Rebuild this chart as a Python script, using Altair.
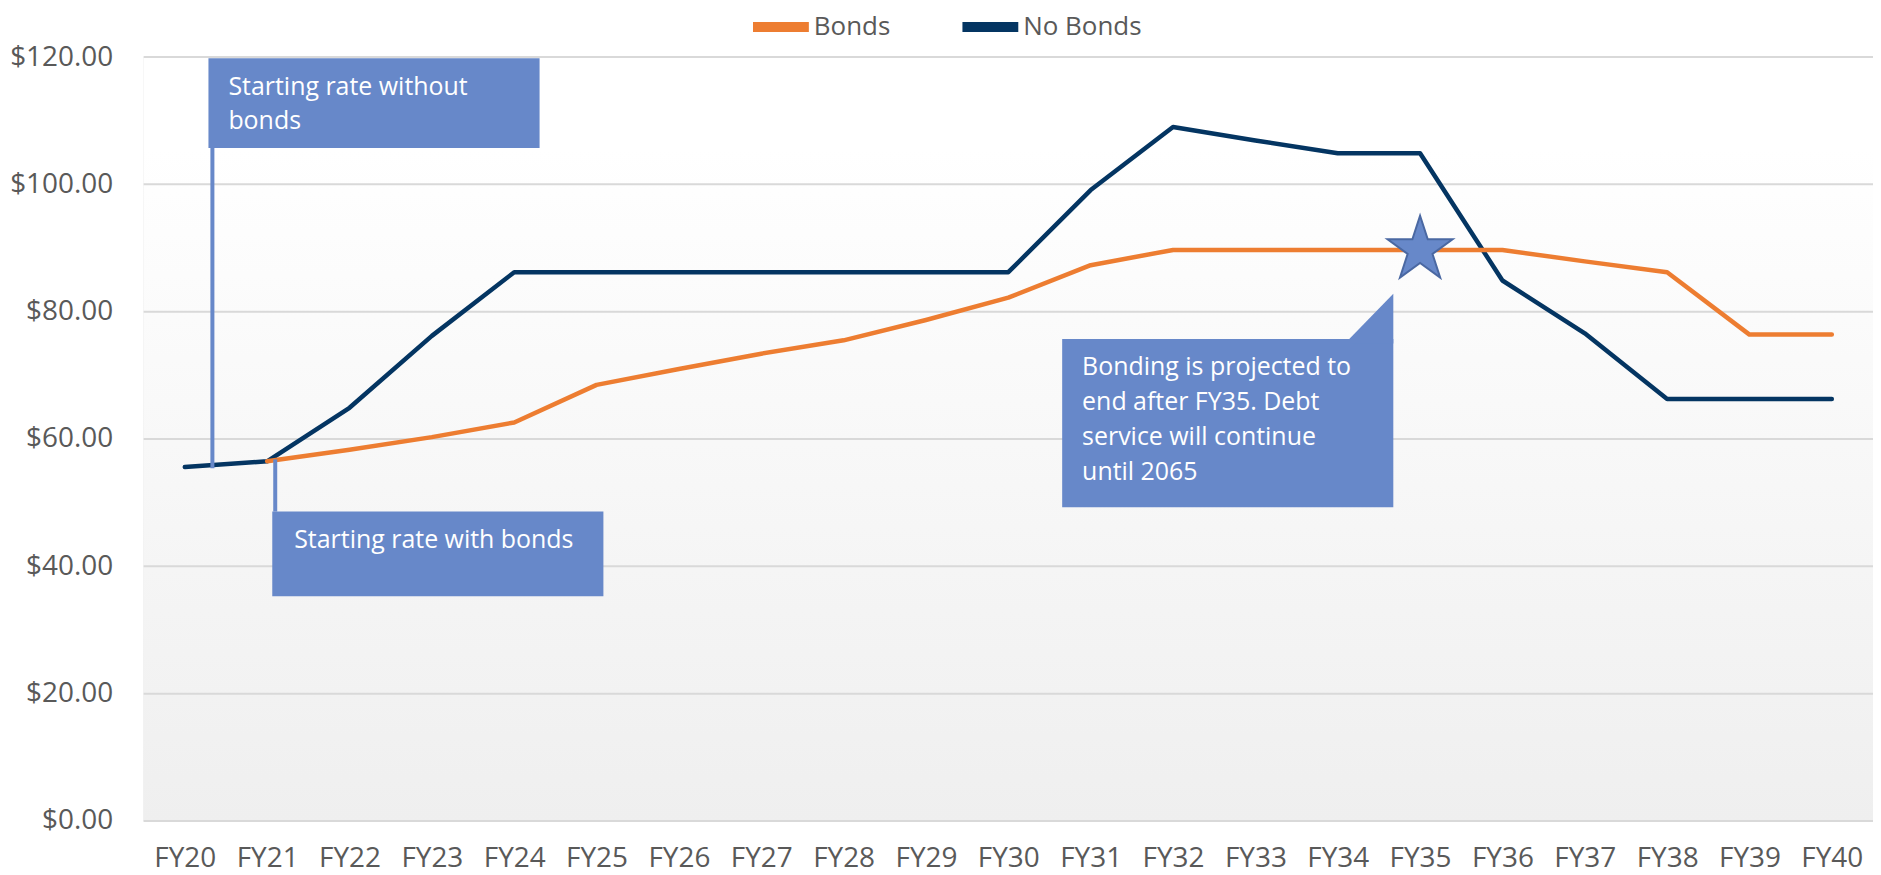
import altair as alt
import pandas as pd

# ---------------- data ----------------
years = ["FY20", "FY21", "FY22", "FY23", "FY24", "FY25", "FY26", "FY27", "FY28", "FY29", "FY30",
         "FY31", "FY32", "FY33", "FY34", "FY35", "FY36", "FY37", "FY38", "FY39", "FY40"]
bonds = [None, 56.5, 58.3, 60.3, 62.6, 68.5, 71.0, 73.4, 75.5, 78.7, 82.2,
         87.3, 89.7, 89.7, 89.7, 89.7, 89.7, 87.9, 86.2, 76.4, 76.4]
no_bonds = [55.6, 56.5, 64.9, 76.2, 86.2, 86.2, 86.2, 86.2, 86.2, 86.2, 86.2,
            99.1, 109.0, 106.9, 104.9, 104.9, 84.9, 76.6, 66.3, 66.3, 66.3]
series_names = ["Bonds", "No Bonds"]
series_colors = ["#ED7D31", "#043562"]
y_ticks = [0, 20, 40, 60, 80, 100, 120]

# annotation content (positions in data units: x = category index, y = dollars)
box_x = [0.287, 1.062, 10.654]
box_x2 = [4.308, 5.083, 14.675]
box_y = [105.7, 35.3, 49.3]
box_y2 = [119.8, 48.6, 75.7]
pointer_x = [0.335, 1.098]
pointer_y = [55.4, 56.8]
pointer_y2 = [105.7, 48.6]
wedge_x = [14.14, 14.675]
wedge_y = [75.7, 82.8]
wedge_y2 = [75.0, 75.0]
note_lines = ["Starting rate without", "bonds", "Starting rate with bonds",
              "Bonding is projected to", "end after FY35. Debt", "service will continue", "until 2065"]
note_x = [0.529, 0.529, 1.328, 10.896, 10.896, 10.896, 10.896]
note_y = [114.0, 108.7, 42.9, 70.0, 64.5, 59.0, 53.5]
star_x = [15]
star_y = [89.7]

# ---------------- tables ----------------
rows = []
for i, yr in enumerate(years):
    for name, vals in zip(series_names, [bonds, no_bonds]):
        if vals[i] is not None:
            rows.append({"x": i, "year": yr, "series": name, "y": vals[i]})
lines_df = pd.DataFrame(rows)
bg_df = pd.DataFrame({"x": [-0.5], "x2": [len(years) - 0.5], "y": [0], "y2": [120]})
grid_df = pd.DataFrame({"x": [-0.5] * len(y_ticks), "x2": [len(years) - 0.5] * len(y_ticks), "y": y_ticks})
box_df = pd.DataFrame({"x": box_x, "x2": box_x2, "y": box_y, "y2": box_y2})
ptr_df = pd.DataFrame({"x": pointer_x, "y": pointer_y, "y2": pointer_y2})
wedge_df = pd.DataFrame({"x": wedge_x, "y": wedge_y, "y2": wedge_y2})
note_df = pd.DataFrame({"x": note_x, "y": note_y, "text": note_lines})
star_df = pd.DataFrame({"x": star_x, "y": star_y})

FONT = "Open Sans"
label_expr = "[" + ",".join("'" + y + "'" for y in years) + "][datum.value]"

xscale = alt.Scale(domain=[-0.5, len(years) - 0.5], nice=False, zero=False)
yscale = alt.Scale(domain=[0, 120], nice=False, zero=True)
xaxis = alt.Axis(values=list(range(len(years))), labelExpr=label_expr, title=None, grid=False,
                 domain=False, ticks=False, tickSize=0, labelPadding=24, labelFontSize=28,
                 labelColor="#595959", labelFont=FONT, labelFlush=False)
yaxis = alt.Axis(values=y_ticks, format="$,.2f", title=None, grid=False, domain=False, ticks=False,
                 tickSize=0, labelPadding=31, labelFontSize=28, labelColor="#595959", labelFont=FONT)


def X(f="x"):
    return alt.X(f + ":Q", scale=xscale, axis=xaxis)


def Y(f="y"):
    return alt.Y(f + ":Q", scale=yscale, axis=yaxis)


ANN = "#6788C9"

bg = alt.Chart(bg_df).mark_rect(fill={
    "gradient": "linear", "x1": 0, "y1": 0, "x2": 0, "y2": 1,
    "stops": [{"offset": 0, "color": "#ffffff"}, {"offset": 0.12, "color": "#ffffff"},
              {"offset": 1, "color": "#efefef"}]}).encode(x=X(), x2="x2:Q", y=Y(), y2="y2:Q")

grid = alt.Chart(grid_df).mark_rule(color="#d9d9d9", strokeWidth=2).encode(x=X(), x2="x2:Q", y=Y())

lines = alt.Chart(lines_df).mark_line(strokeWidth=4.5, strokeCap="round", strokeJoin="round").encode(
    x=X(), y=Y(),
    color=alt.Color("series:N", scale=alt.Scale(domain=series_names, range=series_colors),
                    legend=alt.Legend(title=None, orient="none", legendX=606, legendY=-63,
                                      direction="horizontal", labelFontSize=26, labelColor="#595959",
                                      labelFont=FONT, symbolType="stroke", symbolStrokeWidth=10,
                                      symbolSize=3136, labelOffset=0, columnPadding=52)),
    order="x:Q")

ptrs = alt.Chart(ptr_df).mark_rule(color=ANN, strokeWidth=4).encode(x=X(), y=Y(), y2="y2:Q")
boxes = alt.Chart(box_df).mark_rect(color=ANN).encode(x=X(), x2="x2:Q", y=Y(), y2="y2:Q")
wedge = alt.Chart(wedge_df).mark_area(color=ANN, opacity=1).encode(x=X(), y=Y(), y2="y2:Q")
notes = alt.Chart(note_df).mark_text(align="left", baseline="alphabetic", font=FONT, fontSize=25,
                                      color="white").encode(x=X(), y=Y(), text="text:N")
star_path = ("M0,-1L0.2245,-0.309L0.9511,-0.309L0.3633,0.118L0.5878,0.809L0,0.382"
             "L-0.5878,0.809L-0.3633,0.118L-0.9511,-0.309L-0.2245,-0.309Z")
star = alt.Chart(star_df).mark_point(shape=star_path, size=4706, filled=True, fill=ANN, opacity=1,
                                     stroke="#4A68A2", strokeWidth=2).encode(x=X(), y=Y())

chart = alt.layer(bg, grid, lines, ptrs, boxes, wedge, notes, star).properties(
    width=1734, height=766,
    padding={"left": 136, "top": 48, "right": 0, "bottom": 53},
    autosize=alt.AutoSizeParams(type="none"),
).configure_view(stroke=None).configure(font=FONT, background="white")

chart.save("out.html", embed_options={"renderer": "svg", "actions": False})
